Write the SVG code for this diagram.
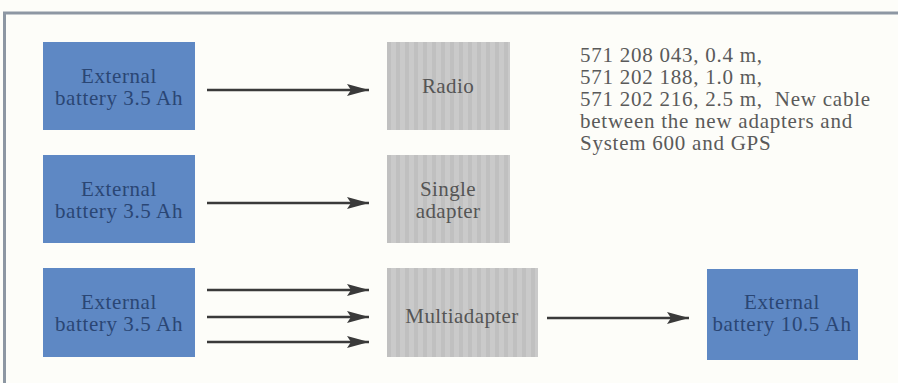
<svg xmlns="http://www.w3.org/2000/svg" width="898" height="383" viewBox="0 0 898 383">
<defs>
<pattern id="stripes" width="9" height="10" patternUnits="userSpaceOnUse">
<rect width="9" height="10" fill="#cacaca"/>
<rect x="0" width="4" height="10" fill="#c0c0c0"/>
</pattern>
<marker id="ah" markerWidth="22" markerHeight="12" refX="22" refY="6" orient="auto" markerUnits="userSpaceOnUse">
<path d="M0,0 L22,6 L0,12 L4,6 Z" fill="#3a3a3a"/>
</marker>
<style>
.bat{fill:#5e88c4}
.gry{fill:url(#stripes)}
.nt{font-family:"Liberation Serif","Times New Roman",serif;font-size:21px;letter-spacing:0.6px;fill:#2a4674;text-anchor:middle}
.gt{font-family:"Liberation Serif","Times New Roman",serif;font-size:21px;letter-spacing:0.4px;fill:#555555;text-anchor:middle}
.note{font-family:"Liberation Serif","Times New Roman",serif;font-size:21px;letter-spacing:0.75px;fill:#5a5a5a}
.c{stroke:#3a3a3a;stroke-width:2.5;fill:none;marker-end:url(#ah)}
</style>
</defs>
<rect width="898" height="383" fill="#fdfdf9"/>
<path d="M4.5,383 V13 H898" fill="none" stroke="#8d97a3" stroke-width="3"/>

<g id="bat1"><rect class="bat" x="43" y="42" width="152" height="88"/><text class="nt" x="119" y="83">External</text><text class="nt" x="119" y="105">battery 3.5 Ah</text></g>
<g id="bat2"><rect class="bat" x="43" y="155" width="152" height="88"/><text class="nt" x="119" y="196">External</text><text class="nt" x="119" y="218">battery 3.5 Ah</text></g>
<g id="bat3"><rect class="bat" x="43" y="268" width="152" height="89"/><text class="nt" x="119" y="309">External</text><text class="nt" x="119" y="331">battery 3.5 Ah</text></g>
<g id="radio"><rect class="gry" x="387" y="42" width="123" height="88"/><text class="gt" x="448" y="93">Radio</text></g>
<g id="single"><rect class="gry" x="387" y="155" width="123" height="88"/><text class="gt" x="448" y="196">Single</text><text class="gt" x="448" y="218">adapter</text></g>
<g id="multi"><rect class="gry" x="387" y="268" width="151" height="89"/><text class="gt" x="462" y="323">Multiadapter</text></g>
<g id="bat10"><rect class="bat" x="707" y="269" width="151" height="91"/><text class="nt" x="782" y="309">External</text><text class="nt" x="782" y="331">battery 10.5 Ah</text></g>
<g id="note"><text class="note" x="580" y="62">571 208 043, 0.4 m,</text><text class="note" x="580" y="84">571 202 188, 1.0 m,</text><text class="note" x="580" y="106" xml:space="preserve">571 202 216, 2.5 m,  New cable</text><text class="note" x="580" y="128">between the new adapters and</text><text class="note" x="580" y="150">System 600 and GPS</text></g>

<g id="connectors">
<line class="c" x1="207" y1="90" x2="369" y2="90"/>
<line class="c" x1="207" y1="203" x2="369" y2="203"/>
<line class="c" x1="207" y1="290" x2="369" y2="290"/>
<line class="c" x1="207" y1="317" x2="369" y2="317"/>
<line class="c" x1="207" y1="342" x2="369" y2="342"/>
<line class="c" x1="547" y1="318" x2="689" y2="318"/>
</g>
</svg>
